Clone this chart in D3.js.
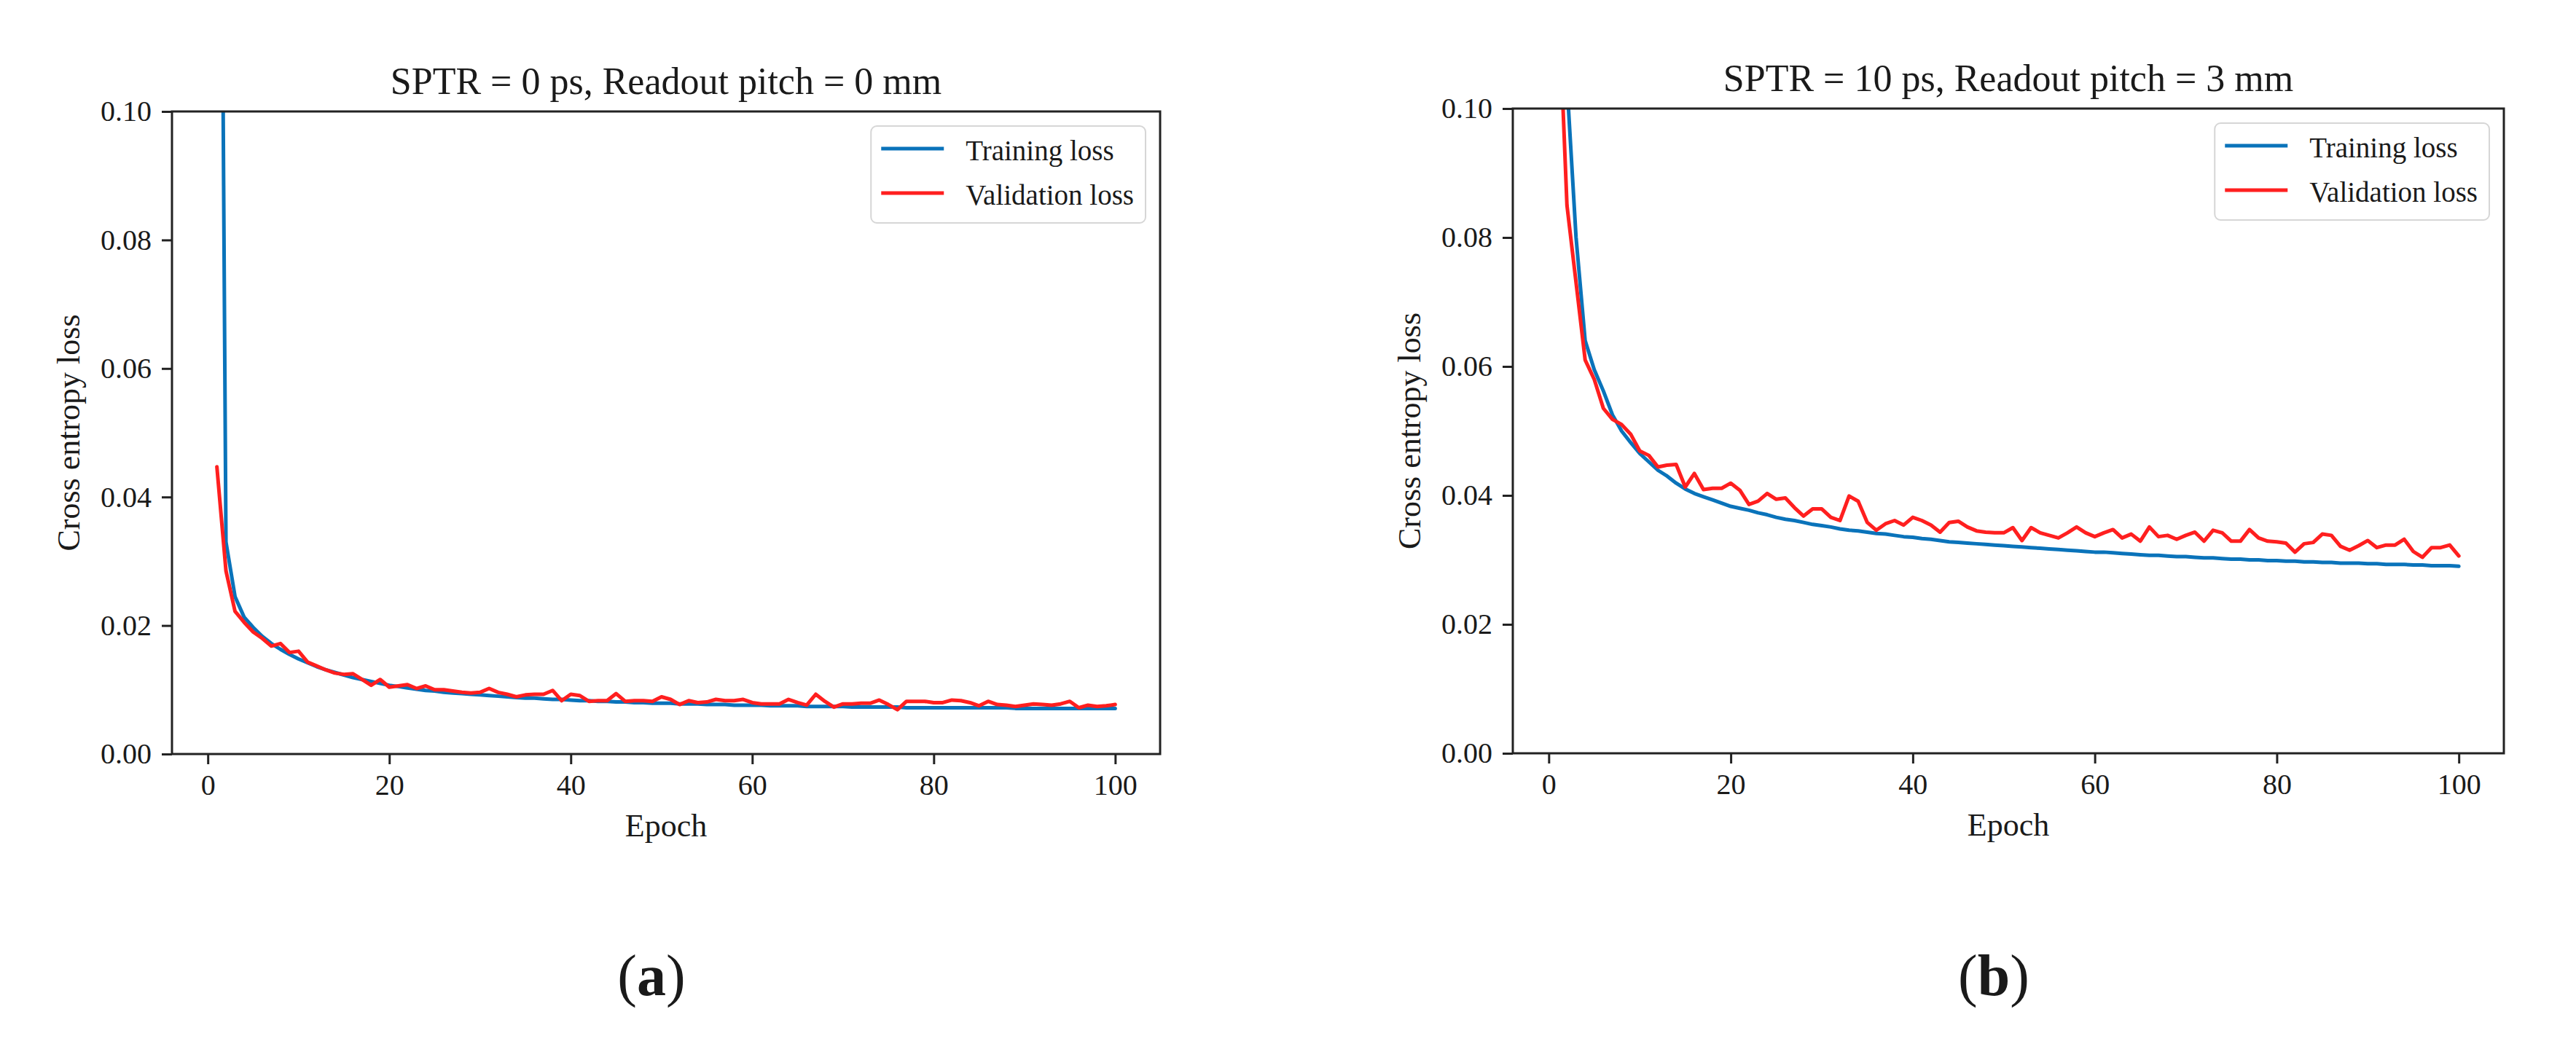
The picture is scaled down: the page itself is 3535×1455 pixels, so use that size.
<!DOCTYPE html>
<html>
<head>
<meta charset="utf-8">
<script src="https://cdn.jsdelivr.net/npm/d3@7"></script>
<style>
  body { margin: 0; background: #ffffff; }
  text { font-family: "Liberation Serif", "DejaVu Serif", serif; fill: #1a1a1a; }
</style>
</head>
<body>
<div id="viz"></div>
<script>
let xTicks = [0, 20, 40, 60, 80, 100],
    yTicks = [0, 0.02, 0.04, 0.06, 0.08, 0.10],
    seriesNames = ['Training loss', 'Validation loss'],
    panelTitles = ['SPTR = 0 ps, Readout pitch = 0 mm', 'SPTR = 10 ps, Readout pitch = 3 mm'],
    panelTags = ['a', 'b'];

// panel (a), epochs 1..100
let trainA = [0.25, 0.033, 0.0245, 0.0213, 0.0197, 0.0183, 0.0172, 0.0163, 0.0155, 0.0148,
  0.0142, 0.0136, 0.0131, 0.0127, 0.0123, 0.0119, 0.0116, 0.0113, 0.0110, 0.0107,
  0.0105, 0.0103, 0.0101, 0.0099, 0.0098, 0.0096, 0.0095, 0.0094, 0.0093, 0.0092,
  0.0091, 0.0090, 0.0089, 0.0088, 0.0087, 0.0087, 0.0086, 0.0085, 0.0085, 0.0084,
  0.0083, 0.0083, 0.0082, 0.0082, 0.0081, 0.0081, 0.0080, 0.0080, 0.0079, 0.0079,
  0.0079, 0.0078, 0.0078, 0.0078, 0.0077, 0.0077, 0.0077, 0.0076, 0.0076, 0.0076,
  0.0076, 0.0075, 0.0075, 0.0075, 0.0075, 0.0074, 0.0074, 0.0074, 0.0074, 0.0074,
  0.0073, 0.0073, 0.0073, 0.0073, 0.0073, 0.0073, 0.0072, 0.0072, 0.0072, 0.0072,
  0.0072, 0.0072, 0.0072, 0.0072, 0.0072, 0.0072, 0.0072, 0.0072, 0.0071, 0.0071,
  0.0071, 0.0071, 0.0071, 0.0071, 0.0071, 0.0071, 0.0071, 0.0071, 0.0071, 0.0071];

let valA = [0.0447, 0.0285, 0.0222, 0.0205, 0.0190, 0.0180, 0.0168, 0.0172, 0.0158, 0.0160,
  0.0143, 0.0137, 0.0131, 0.0126, 0.0124, 0.0125, 0.0116, 0.0107, 0.0116, 0.0104,
  0.0106, 0.0108, 0.0102, 0.0106, 0.0100, 0.0100, 0.0098, 0.0096, 0.0095, 0.0096,
  0.0102, 0.0096, 0.0093, 0.0089, 0.0092, 0.0093, 0.0093, 0.0099, 0.0083, 0.0093,
  0.0091, 0.0082, 0.0083, 0.0083, 0.0094, 0.0082, 0.0083, 0.0083, 0.0082, 0.0089,
  0.0085, 0.0077, 0.0083, 0.0080, 0.0081, 0.0085, 0.0083, 0.0083, 0.0085, 0.0080,
  0.0078, 0.0078, 0.0078, 0.0085, 0.0080, 0.0076, 0.0093, 0.0082, 0.0073, 0.0078,
  0.0078, 0.0079, 0.0079, 0.0084, 0.0077, 0.0069, 0.0082, 0.0082, 0.0082, 0.0080,
  0.0080, 0.0084, 0.0083, 0.0080, 0.0075, 0.0082, 0.0077, 0.0076, 0.0074, 0.0076,
  0.0078, 0.0077, 0.0076, 0.0078, 0.0082, 0.0072, 0.0076, 0.0074, 0.0075, 0.0077];

// panel (b), epochs 1..100
let trainB = [0.25, 0.104, 0.080, 0.064, 0.0595, 0.0562, 0.0525, 0.0500, 0.0482, 0.0465,
  0.0452, 0.0439, 0.0430, 0.0419, 0.0410, 0.0403, 0.0398, 0.0393, 0.0388, 0.0383,
  0.0380, 0.0377, 0.0373, 0.0370, 0.0366, 0.0363, 0.0361, 0.0358, 0.0355, 0.0353,
  0.0351, 0.0348, 0.0346, 0.0345, 0.0343, 0.0341, 0.0340, 0.0338, 0.0336, 0.0335,
  0.0333, 0.0332, 0.0330, 0.0328, 0.0327, 0.0326, 0.0325, 0.0324, 0.0323, 0.0322,
  0.0321, 0.0320, 0.0319, 0.0318, 0.0317, 0.0316, 0.0315, 0.0314, 0.0313, 0.0312,
  0.0312, 0.0311, 0.0310, 0.0309, 0.0308, 0.0307, 0.0307, 0.0306, 0.0305, 0.0305,
  0.0304, 0.0303, 0.0303, 0.0302, 0.0301, 0.0301, 0.0300, 0.0300, 0.0299, 0.0299,
  0.0298, 0.0298, 0.0297, 0.0297, 0.0296, 0.0296, 0.0295, 0.0295, 0.0295, 0.0294,
  0.0294, 0.0293, 0.0293, 0.0293, 0.0292, 0.0292, 0.0291, 0.0291, 0.0291, 0.0290];

let valB = [0.12, 0.085, 0.073, 0.061, 0.058, 0.0535, 0.0518, 0.0510, 0.0495, 0.0469,
  0.0462, 0.0444, 0.0447, 0.0448, 0.0413, 0.0434, 0.0409, 0.0411, 0.0411, 0.0419,
  0.0408, 0.0386, 0.0391, 0.0403, 0.0394, 0.0396, 0.0381, 0.0368, 0.0379, 0.0379,
  0.0366, 0.0361, 0.0399, 0.0391, 0.0358, 0.0346, 0.0356, 0.0361, 0.0354, 0.0366,
  0.0361, 0.0354, 0.0343, 0.0358, 0.0360, 0.0351, 0.0345, 0.0343, 0.0342, 0.0342,
  0.0350, 0.0330, 0.0350, 0.0342, 0.0338, 0.0334, 0.0342, 0.0351, 0.0342, 0.0336,
  0.0342, 0.0347, 0.0334, 0.0340, 0.0329, 0.0351, 0.0336, 0.0338, 0.0332, 0.0338,
  0.0343, 0.0329, 0.0346, 0.0342, 0.0329, 0.0329, 0.0347, 0.0334, 0.0329, 0.0328,
  0.0326, 0.0312, 0.0325, 0.0327, 0.0340, 0.0338, 0.0321, 0.0315, 0.0322, 0.0330,
  0.0319, 0.0323, 0.0323, 0.0332, 0.0313, 0.0304, 0.0319, 0.0319, 0.0323, 0.0306];

let colors = ['#0a73ba', '#ff1f1f'];

let svg = d3.select('#viz').append('svg')
  .attr('width', 3535)
  .attr('height', 1455)
  .style('background', '#ffffff');

let panels = [
  { left: 236, top: 153, width: 1356, height: 882, series: [trainA, valA], title: panelTitles[0], tag: panelTags[0] },
  { left: 2076, top: 149, width: 1360, height: 885, series: [trainB, valB], title: panelTitles[1], tag: panelTags[1] }
];

panels.forEach(function(p, pi) {
  let g = svg.append('g')
    .attr('transform', 'translate(' + p.left + ',' + p.top + ')');

  let x = d3.scaleLinear()
    .domain([-3.95, 104.95])
    .range([0, p.width]);

  let y = d3.scaleLinear()
    .domain([0, 0.10])
    .range([p.height, 0]);

  g.append('clipPath')
    .attr('id', 'clip' + pi)
    .append('rect')
    .attr('width', p.width)
    .attr('height', p.height);

  let line = d3.line()
    .x(function(d, i) { return x(i + 1); })
    .y(function(d) { return y(d); });

  g.append('g')
    .attr('clip-path', 'url(#clip' + pi + ')')
    .selectAll('path').data(p.series)
    .enter().append('path')
    .attr('d', line)
    .attr('fill', 'none')
    .attr('stroke', function(d, i) { return colors[i]; })
    .attr('stroke-width', 5)
    .attr('stroke-linejoin', 'round')
    .attr('stroke-linecap', 'round');

  let xAxis = g.append('g')
    .attr('transform', 'translate(0,' + p.height + ')')
    .call(d3.axisBottom(x).tickValues(xTicks).tickSize(14).tickSizeOuter(0).tickPadding(14));

  let yAxis = g.append('g')
    .call(d3.axisLeft(y).tickValues(yTicks).tickFormat(d3.format('.2f')).tickSize(14).tickSizeOuter(0).tickPadding(14));

  [xAxis, yAxis].forEach(function(a) {
    a.select('.domain').remove();
    a.selectAll('.tick line').attr('stroke', '#222').attr('stroke-width', 3);
    a.selectAll('.tick text')
      .style('font-family', '"Liberation Serif", serif')
      .style('font-size', '40px')
      .attr('fill', '#1a1a1a');
  });

  g.append('rect')
    .attr('width', p.width)
    .attr('height', p.height)
    .attr('fill', 'none')
    .attr('stroke', '#222')
    .attr('stroke-width', 3);

  g.append('text')
    .attr('x', p.width / 2)
    .attr('y', -24)
    .attr('text-anchor', 'middle')
    .style('font-size', '52px')
    .text(p.title);

  g.append('text')
    .attr('x', p.width / 2)
    .attr('y', p.height + 113)
    .attr('text-anchor', 'middle')
    .style('font-size', '44px')
    .text('Epoch');

  g.append('text')
    .attr('transform', 'translate(-127,' + (p.height / 2) + ') rotate(-90)')
    .attr('text-anchor', 'middle')
    .style('font-size', '44px')
    .text('Cross entropy loss');

  // legend
  let legend = g.append('g');
  let box = legend.append('rect')
    .attr('rx', 8)
    .attr('fill', '#ffffff')
    .attr('fill-opacity', 0.8)
    .attr('stroke', '#d6d6d6')
    .attr('stroke-width', 2);

  let maxLen = 0;
  seriesNames.forEach(function(name, i) {
    let ly = 31 + i * 61;
    legend.append('line')
      .attr('x1', 14).attr('x2', 100)
      .attr('y1', ly).attr('y2', ly)
      .attr('stroke', colors[i])
      .attr('stroke-width', 5);
    let t = legend.append('text')
      .attr('x', 130)
      .attr('y', ly)
      .attr('dy', '0.4em')
      .style('font-size', '39px')
      .text(name);
    maxLen = Math.max(maxLen, t.node().getComputedTextLength());
  });

  let boxW = 130 + maxLen + 16;
  box.attr('width', boxW).attr('height', 133);
  legend.attr('transform', 'translate(' + (p.width - 20 - boxW) + ',20)');

  // panel tag
  let tag = svg.append('text')
    .attr('x', p.left + p.width / 2 - 20)
    .attr('y', 1366)
    .attr('text-anchor', 'middle')
    .style('font-size', '80px');
  tag.append('tspan').text('(');
  tag.append('tspan').style('font-weight', 'bold').text(p.tag);
  tag.append('tspan').text(')');
});
</script>
</body>
</html>
